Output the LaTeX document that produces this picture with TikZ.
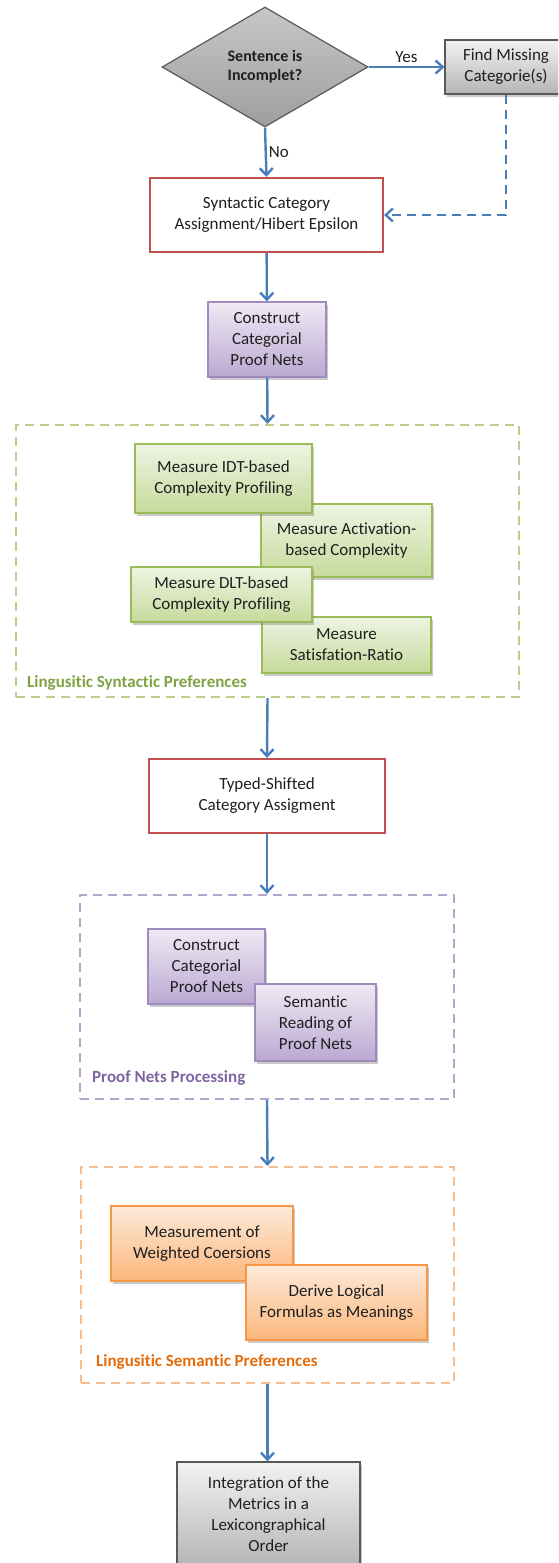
\documentclass[tikz,border=0pt]{standalone}
\usepackage{fontspec}
\setmainfont[Ligatures=NoCommon]{Carlito}
\usetikzlibrary{shapes.geometric,arrows.meta,shadows}
\definecolor{flowblue}{HTML}{4A7EBB}
\definecolor{redline}{HTML}{C0504D}
\definecolor{grnline}{HTML}{9BBB59}
\definecolor{grntop}{HTML}{EEF4E2}
\definecolor{grnbot}{HTML}{C6DA9C}
\definecolor{grndash}{HTML}{B8D08A}
\definecolor{grntext}{HTML}{7FA244}
\definecolor{purline}{HTML}{9F8BBF}
\definecolor{purtop}{HTML}{EFEAF4}
\definecolor{purbot}{HTML}{BBA8D2}
\definecolor{purdash}{HTML}{B6A4CC}
\definecolor{purtext}{HTML}{8064A2}
\definecolor{orgline}{HTML}{F79646}
\definecolor{orgtop}{HTML}{FDEADA}
\definecolor{orgbot}{HTML}{FBB77C}
\definecolor{orgdash}{HTML}{F9BE8E}
\definecolor{orgtext}{HTML}{E46C0A}
\definecolor{gryline}{HTML}{595959}
\definecolor{grytop}{HTML}{F2F2F2}
\definecolor{grybot}{HTML}{B5B5B5}
\definecolor{txt}{HTML}{1F1F1F}
\tikzset{
  base/.style={rectangle, inner sep=0pt, align=center, text=txt, line width=1.2pt},
  shadowed/.style={drop shadow={shadow xshift=2pt, shadow yshift=-2.5pt, opacity=0.35, fill=black!60}},
  greenbox/.style={base, draw=grnline, top color=grntop, bottom color=grnbot, shadowed},
  purplebox/.style={base, draw=purline, top color=purtop, bottom color=purbot, shadowed},
  orangebox/.style={base, draw=orgline, top color=orgtop, bottom color=orgbot, shadowed},
  graybox/.style={base, draw=gryline, top color=grytop, bottom color=grybot, shadowed},
  redbox/.style={base, draw=redline, fill=white, line width=2.2pt},
  container/.style={rectangle, inner sep=0pt, line width=2.2pt, dash pattern=on 9pt off 6pt},
  flow/.style={draw=flowblue, line width=2.4pt, -{Straight Barb[length=7pt,width=13pt,line width=2.4pt]}},
  grouplabel/.style={anchor=west, inner sep=0pt, font=\fontsize{17}{20}\selectfont\bfseries}
}
\begin{document}
\begin{tikzpicture}[x=1pt,y=-1pt,font=\fontsize{17}{21}\selectfont]
\useasboundingbox (0,0) rectangle (558,1563);
\clip (0,0) rectangle (558,1563);

% top decision
\node[diamond, draw=gryline, line width=1.2pt, top color=black!22, bottom color=black!38, inner sep=0pt,
      minimum width=206pt, minimum height=120pt, align=center, text=txt,
      font=\fontsize{16}{19}\selectfont\bfseries] (dec) at (265,67) {Sentence is\\Incomplet?};
\node[graybox, minimum width=122pt, minimum height=54pt] (find) at (506,67) {Find Missing\\Categorie(s)};
\node[redbox, minimum width=233pt, minimum height=74pt] (syn) at (266.5,215) {Syntactic Category\\Assignment/Hibert Epsilon};
\node[purplebox, minimum width=118pt, minimum height=75pt] (ccpn) at (267,339.5) {Construct\\Categorial\\Proof Nets};

% syntactic preferences container
\node[container, draw=grndash, minimum width=503pt, minimum height=272pt] (gcont) at (267.5,561) {};
\node[greenbox, minimum width=171pt, minimum height=73pt] (act) at (346.5,540.5) {Measure Activation-\\based Complexity};
\node[greenbox, minimum width=169pt, minimum height=56pt] (sat) at (346.5,645) {Measure\\Satisfation-Ratio};
\node[greenbox, minimum width=177pt, minimum height=69pt] (idt) at (223.5,478.5) {Measure IDT-based\\Complexity Profiling};
\node[greenbox, minimum width=181pt, minimum height=55pt] (dlt) at (221.5,594.5) {Measure DLT-based\\Complexity Profiling};
\node[grouplabel, text=grntext] (glab) at (27,683) {Lingusitic Syntactic Preferences};

\node[redbox, minimum width=236pt, minimum height=74pt] (tsc) at (267,796) {Typed-Shifted\\Category Assigment};

% proof nets container
\node[container, draw=purdash, minimum width=374pt, minimum height=204pt] (pcont) at (267,997) {};
\node[purplebox, minimum width=117pt, minimum height=75pt] (ccpn2) at (206.5,966.5) {Construct\\Categorial\\Proof Nets};
\node[purplebox, minimum width=121pt, minimum height=77pt] (sem) at (315.5,1022.5) {Semantic\\Reading of\\Proof Nets};
\node[grouplabel, text=purtext] (plab) at (92,1078) {Proof Nets Processing};

% semantic preferences container
\node[container, draw=orgdash, minimum width=373pt, minimum height=216pt] (ocont) at (267.5,1275) {};
\node[orangebox, minimum width=182pt, minimum height=75pt] (meas) at (202,1243.5) {Measurement of\\Weighted Coersions};
\node[orangebox, minimum width=181pt, minimum height=75pt] (der) at (336.5,1302.5) {Derive Logical\\Formulas as Meanings};
\node[grouplabel, text=orgtext] (olab) at (96,1362) {Lingusitic Semantic Preferences};

\node[graybox, minimum width=183pt, minimum height=104pt] (integ) at (268.5,1514) {Integration of the\\Metrics in a\\Lexicongraphical\\Order};

% connectors
\draw[flow] (dec.east) -- node[above, text=txt, inner sep=3pt] {Yes} (find.west);
\draw[flow] (dec.south) -- node[right, text=txt, inner sep=2pt] {No} (syn.north);
\draw[flow, dash pattern=on 9pt off 6pt] (find.south) |- (syn.east);
\draw[flow] (syn) -- (ccpn);
\draw[flow] (ccpn) -- (gcont.north);
\draw[flow] (gcont.south) -- (tsc.north);
\draw[flow] (tsc) -- (pcont.north);
\draw[flow] (pcont.south) -- (ocont.north);
\draw[flow] (ocont.south) -- (integ.north -| ocont.south);
\end{tikzpicture}
\end{document}
